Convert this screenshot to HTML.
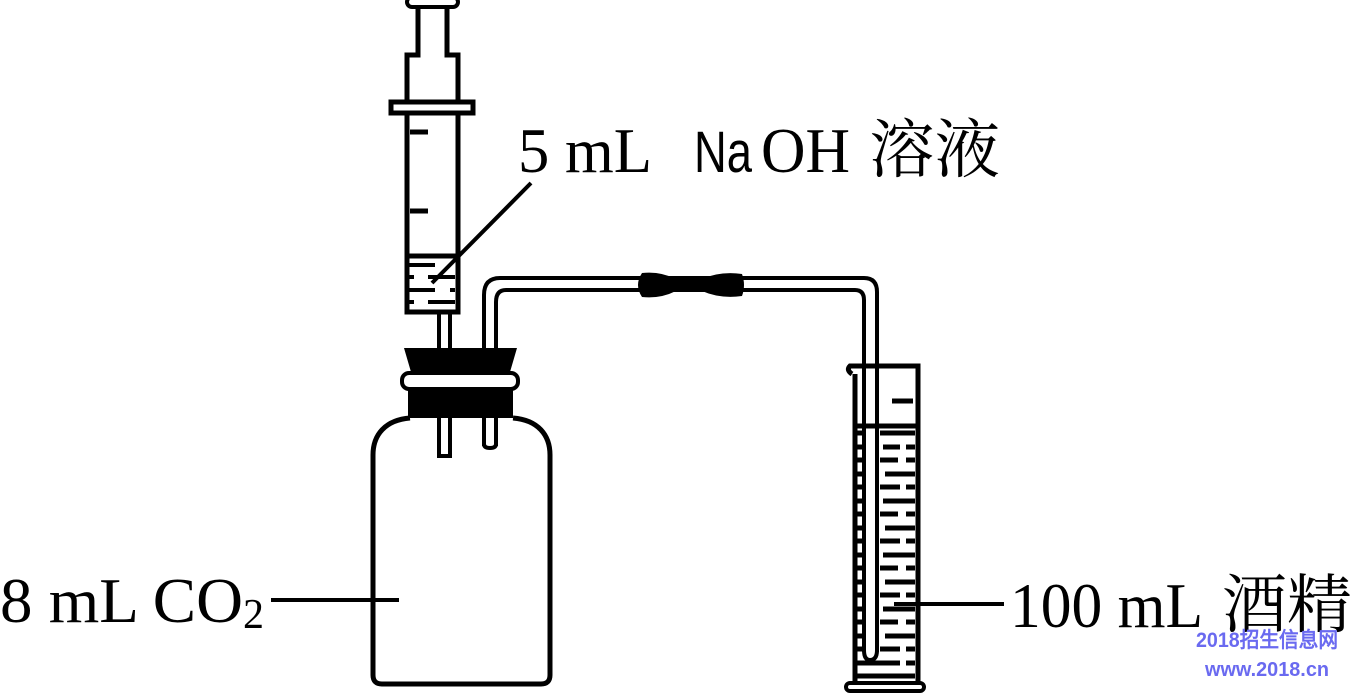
<!DOCTYPE html>
<html><head><meta charset="utf-8"><style>
html,body{margin:0;padding:0;background:#fff;width:1352px;height:693px;overflow:hidden}
svg{display:block}
.s{font-family:"Liberation Serif","Noto Serif CJK SC",serif;}
</style></head><body>
<svg width="1352" height="693" viewBox="0 0 1352 693" xmlns="http://www.w3.org/2000/svg">
<defs>
<clipPath id="liq"><rect x="855" y="424" width="60" height="255"/></clipPath>
</defs>
<g fill="none" stroke="#000" stroke-width="5">
<rect x="407" y="-3" width="51" height="10" rx="5" stroke-width="4"/>
<path d="M418 8 V55 H407 V102 M447 8 V55 H458 V102"/>
<rect x="391" y="102" width="82" height="11"/>
<path d="M407 113 V312 H458 V113"/>
<path d="M410 132 H428 M410 211 H428"/>
<path d="M407 256 H458"/>
<path d="M409 265 H435 M409 277 H414 M428 277 H455 M409 290 H435 M450 290 H455 M409 302 H414 M428 302 H455" stroke-width="4"/>
<path d="M439 312 V456 H450 V312" stroke-width="4"/>
<path d="M531 183 L432 283" stroke-width="4"/>
<path d="M410 418 C385 420 373 435 373 455 V675 Q373 684 382 684 H541 Q550 684 550 675 V455 C550 435 538 420 513 418"/>
<path d="M484 446 V295 Q484 278 500 278 H864 Q877 278 877 292 V652" stroke-width="4"/>
<path d="M496 446 V302 Q496 290 506 290 H855 Q864 290 864 300 V652" stroke-width="4"/>
<path d="M484 444 Q484 448 490 448 Q496 448 496 444" stroke-width="4"/>
<path d="M864 650 Q864 660 870 660 Q877 660 877 650" stroke-width="4"/>
<path d="M852 374 Q846 370 850 366 H918 V683 M855 374 V683" stroke-width="5"/>
<path d="M892 401 H913"/>
<path d="M855 426 H918"/>
<rect x="846" y="683" width="78" height="8" rx="4" stroke-width="4"/>
<path d="M271 600 H399" stroke-width="4"/>
<path d="M894 604 H1004" stroke-width="4"/>
</g>
<g clip-path="url(#liq)" stroke="#000" stroke-width="5">
<path d="M857 433H866 M880 433H915 M857 447H866 M883 447H900 M906 447H915 M857 460H866 M880 460H898 M906 460H915 M857 474H866 M885 474H915 M857 487H866 M880 487H900 M906 487H915 M857 501H866 M883 501H915 M857 514H866 M880 514H898 M906 514H915 M857 528H866 M885 528H915 M857 541H866 M880 541H900 M906 541H915 M857 555H866 M883 555H915 M857 568H866 M880 568H898 M906 568H915 M857 582H866 M885 582H915 M857 595H866 M880 595H900 M906 595H915 M857 609H866 M883 609H915 M857 622H866 M880 622H898 M906 622H915 M857 636H866 M885 636H915 M857 649H866 M880 649H900 M906 649H915 M857 663H900 M906 663H915 M857 676H915"/>
</g>
<path d="M404 348 H517 L510 372 H411 Z" fill="#000"/>
<rect x="402" y="373" width="116" height="16" rx="7" fill="#fff" stroke="#000" stroke-width="4"/>
<rect x="408" y="390" width="105" height="28" fill="#000"/>
<rect x="441" y="376" width="7" height="10" fill="#fff"/>
<path d="M642 273 Q660 271 676 279 H702 Q720 271 742 274 Q746 285 742 296 Q720 299 702 291 H676 Q660 299 642 297 Q634 285 642 273 Z" fill="#000"/>
<g class="s" fill="#000">
<text x="518" y="172" font-size="64" textLength="134" lengthAdjust="spacingAndGlyphs">5 mL</text>
<text x="694" y="172" font-size="58" font-family="Liberation Sans, sans-serif" textLength="58" lengthAdjust="spacingAndGlyphs">Na</text>
<text x="761" y="172" font-size="64" textLength="89" lengthAdjust="spacingAndGlyphs">OH</text>
<text x="869" y="172" font-size="64" font-family="Noto Serif CJK SC, serif" textLength="131" lengthAdjust="spacingAndGlyphs">溶液</text>
<text x="0" y="622" font-size="64" textLength="243" lengthAdjust="spacingAndGlyphs">8 mL CO</text>
<text x="243" y="628" font-size="42">2</text>
<text x="1010" y="627" font-size="64" textLength="193" lengthAdjust="spacingAndGlyphs">100 mL</text>
<text x="1222" y="627" font-size="64" font-family="Noto Serif CJK SC, serif" textLength="130" lengthAdjust="spacingAndGlyphs">酒精</text>
</g>
<g font-family="Liberation Sans, WenQuanYi Zen Hei, sans-serif" font-weight="bold" fill="#6a6af0">
<text x="1196" y="647" font-size="21" textLength="142" lengthAdjust="spacingAndGlyphs">2018招生信息网</text>
<text x="1205" y="676" font-size="20" textLength="124" lengthAdjust="spacingAndGlyphs">www.2018.cn</text>
</g>
</svg>
</body></html>
